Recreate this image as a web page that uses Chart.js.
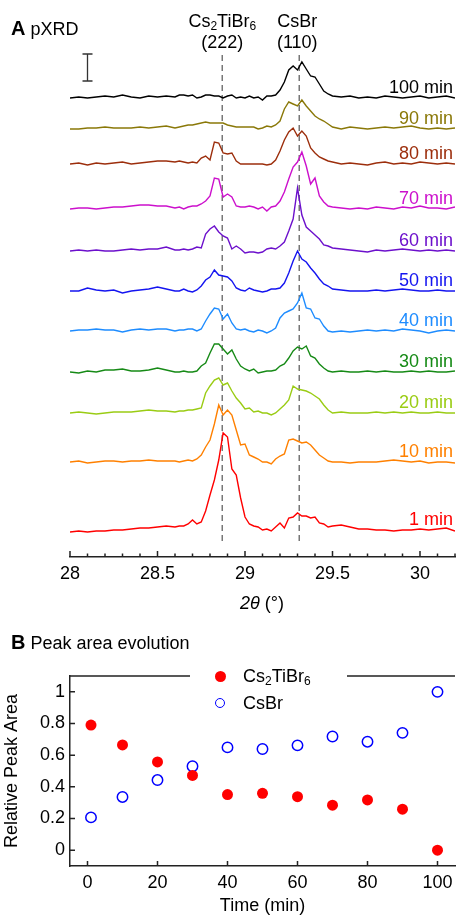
<!DOCTYPE html>
<html>
<head>
<meta charset="utf-8">
<script src="https://cdn.jsdelivr.net/npm/chart.js@4.4.0/dist/chart.umd.min.js"></script>
<style>
  body { margin: 0; background: #fff; font-family: "Liberation Sans", Arial, sans-serif; color: #000; }
  #wrap { position: relative; width: 456px; height: 915px; overflow: hidden; }
  canvas { position: absolute; left: 0; }
  .txt { position: absolute; font-size: 18px; line-height: 20px; white-space: nowrap; }
  .mid { transform: translateX(-50%); text-align: center; }
  sub { font-size: 12px; vertical-align: -3px; line-height: 0; }
  .dot { position: absolute; border-radius: 50%; box-sizing: border-box; }
</style>
</head>
<body>
<div id="wrap">
  <canvas id="xrd" width="456" height="620" style="top:0"></canvas>
  <canvas id="area" width="470" height="295" style="top:620px"></canvas>

  <div class="txt" style="left:11px;top:18px"><b style="font-size:20px">A</b> pXRD</div>
  <div class="txt mid" id="lblTi1" style="top:11px">Cs<sub>2</sub>TiBr<sub>6</sub></div>
  <div class="txt mid" id="lblTi2" style="top:32px">(222)</div>
  <div class="txt mid" id="lblCs1" style="top:11px">CsBr</div>
  <div class="txt mid" id="lblCs2" style="top:32px">(110)</div>
  <div class="txt mid" style="left:262px;top:593px"><i>2θ</i> (°)</div>

  <div class="txt" style="left:11px;top:632px"><b style="font-size:20px">B</b> Peak area evolution</div>
  <div class="dot" style="left:214.5px;top:670.5px;width:11px;height:11px;background:#ff0000"></div>
  <div class="dot" style="left:215px;top:698px;width:10px;height:10px;border:1.5px solid #0000ff;background:#fff"></div>
  <div class="txt" style="left:243px;top:666px">Cs<sub>2</sub>TiBr<sub>6</sub></div>
  <div class="txt" style="left:243px;top:693px">CsBr</div>
</div>

<script>
// 2theta grid (deg) - coarse on the flanks, finer across the two peaks
const twoTheta = [28.00,28.05,28.10,28.15,28.20,28.25,28.30,28.35,28.40,28.45,28.50,28.55,
  28.600,28.625,28.650,28.675,28.700,28.725,28.750,28.775,28.800,28.825,28.850,28.875,28.900,
  28.925,28.950,28.975,29.000,29.025,29.050,29.075,29.100,29.125,29.150,29.175,29.200,29.225,
  29.250,29.275,29.300,29.325,29.350,29.375,29.400,29.425,29.450,29.475,29.500,
  29.55,29.60,29.65,29.70,29.75,29.80,29.85,29.90,29.95,30.00,30.05,30.10,30.15,30.20];

const scanLabels = ['1 min','10 min','20 min','30 min','40 min','50 min','60 min','70 min','80 min','90 min','100 min'];

// intensities (a.u.), baseline removed
const min1 = [-2,-1,-2,-1,-1,0,0,1,2,2,3,4,
  3,4,4,6,10,6,8,19,35,50,70,97,93,61,55,32,13,6,4,3,0,1,-1,3,7,2,12,13,17,14,14,12,13,7,6,3,4,
  5,3,1,1,0,0,-1,0,0,1,0,1,2,-1];
const min10 = [0,1,-1,0,1,1,0,1,1,2,1,1,
  1,0,1,2,1,3,7,15,22,38,57,47,52,47,32,17,18,7,5,3,0,0,-2,3,6,8,22,23,21,19,20,17,12,7,4,1,0,
  0,-1,0,0,0,1,2,1,0,1,-1,0,0,-1];
const min20 = [0,1,0,-1,0,1,1,1,2,3,2,2,
  1,2,2,3,3,4,5,20,27,33,35,28,30,22,15,10,4,5,1,2,0,0,-2,0,4,8,13,27,24,23,22,20,17,14,8,3,0,
  1,0,0,0,1,0,1,0,1,0,0,1,0,0];
const min30 = [0,-1,1,0,2,2,3,1,1,2,4,2,
  0,0,1,0,0,1,6,9,19,28,28,23,18,22,13,6,3,1,3,-1,0,1,1,2,6,8,14,21,25,23,26,16,14,8,4,1,0,
  1,0,0,1,0,1,0,0,1,0,1,0,0,1];
const min40 = [0,1,1,2,1,1,-1,1,2,1,2,2,
  0,1,1,2,2,0,2,10,17,23,22,12,17,8,2,1,2,0,-1,1,0,-2,0,3,13,18,20,22,28,38,23,22,13,12,5,0,-1,
  0,-1,0,1,0,1,0,2,1,0,-2,0,1,0];
const min50 = [0,0,3,1,0,1,-2,0,1,2,4,2,
  0,0,2,0,-1,1,5,11,14,21,16,15,14,10,3,1,0,3,1,0,-1,0,2,2,3,8,18,30,40,32,29,23,18,12,7,5,2,
  1,0,0,0,1,0,1,2,1,0,0,1,0,0];
const min60 = [0,1,0,1,0,0,1,2,1,2,2,4,
  1,1,2,1,2,4,3,17,22,25,19,15,13,2,5,2,-2,-1,-1,-2,-1,2,3,2,5,9,20,32,63,36,24,20,16,12,6,5,3,
  2,1,0,-1,1,0,1,2,1,0,1,0,1,0];
const min70 = [0,1,1,0,1,2,2,3,4,4,3,3,
  1,2,0,2,3,3,5,8,13,31,30,12,15,12,3,2,2,3,2,0,2,-2,2,3,8,17,30,42,47,57,43,25,31,13,7,3,2,
  1,0,1,0,2,1,0,2,1,3,1,1,0,2];
const min80 = [0,1,-1,1,0,1,2,0,1,2,3,3,
  2,3,2,1,2,1,6,8,4,22,21,11,10,11,3,0,0,0,0,0,0,-1,0,4,13,24,32,36,28,33,28,16,11,7,5,3,2,
  0,1,0,-1,1,2,0,1,0,2,1,0,1,0];
const min90 = [0,0,1,1,2,1,1,1,2,1,2,3,
  1,2,3,4,4,5,6,7,6,6,6,6,4,3,2,2,2,2,2,0,1,3,2,4,8,20,27,25,23,29,23,18,13,10,8,5,2,
  0,2,1,0,1,2,1,2,3,1,0,1,0,1];
const min100 = [0,1,0,1,2,1,3,1,0,2,1,2,
  1,3,3,2,3,0,1,3,3,2,2,0,2,3,0,1,0,2,0,1,-2,2,2,3,8,16,28,32,28,36,29,22,21,14,7,4,2,
  1,2,0,1,0,2,1,0,1,2,0,1,2,0];

const scans = [min1, min10, min20, min30, min40, min50, min60, min70, min80, min90, min100];
// vertical stacking offset of each scan (a.u.)
const stackOffsets = [27, 95, 144, 185, 226, 266, 306, 348, 393, 428, 459];
const scanColors = ['#ff0000','#ff8000','#9acc14','#168a16','#1e8cff','#1414f0','#6c10cc','#cc10cc','#9c2e0c','#8a7808','#000000'];

const refPeaks = [28.87, 29.31];   // Cs2TiBr6 (222), CsBr (110)
const xrdTicks = [28, 28.5, 29, 29.5, 30];
const scaleBar = {at: 28.1, from: 476, size: 27};

// peak area evolution
const timeMin = [1, 10, 20, 30, 40, 50, 60, 70, 80, 90, 100];
const areaTi = [0.79, 0.665, 0.557, 0.472, 0.351, 0.359, 0.338, 0.284, 0.317, 0.259, 0.0];
const areaCsBr = [0.207, 0.336, 0.443, 0.530, 0.649, 0.639, 0.662, 0.718, 0.685, 0.741, 1.0];
const timeTicks = [0, 20, 40, 60, 80, 100];
const areaTicks = [0, 0.2, 0.4, 0.6, 0.8, 1];

const FONT = '"Liberation Sans", Arial, sans-serif';
Chart.defaults.font.family = FONT;
Chart.defaults.color = '#000';

const xrdDecor = {
  id: 'xrdDecor',
  beforeDatasetsDraw(chart) {
    const {ctx, chartArea, scales} = chart;
    ctx.save();
    ctx.strokeStyle = '#777';
    ctx.lineWidth = 1.5;
    ctx.setLineDash([6, 4]);
    for (const p of refPeaks) {
      const x = scales.x.getPixelForValue(p);
      ctx.beginPath();
      ctx.moveTo(x, 55);
      ctx.lineTo(x, chartArea.bottom - 12);
      ctx.stroke();
    }
    ctx.restore();
  },
  afterDraw(chart) {
    const {ctx, chartArea, scales} = chart;
    ctx.save();
    // inward ticks, minor every 0.1
    ctx.strokeStyle = '#222';
    ctx.lineWidth = 1.5;
    for (let i = 0; i <= 22; i++) {
      const v = 28 + i * 0.1;
      const x = scales.x.getPixelForValue(v);
      const len = (i % 5 === 0) ? 6 : 3.5;
      ctx.beginPath();
      ctx.moveTo(x, chartArea.bottom);
      ctx.lineTo(x, chartArea.bottom - len);
      ctx.stroke();
    }
    // intensity scale bar
    const bx = scales.x.getPixelForValue(scaleBar.at);
    const y1 = scales.y.getPixelForValue(scaleBar.from);
    const y2 = scales.y.getPixelForValue(scaleBar.from + scaleBar.size);
    ctx.strokeStyle = '#333';
    ctx.lineWidth = 1.3;
    ctx.beginPath();
    ctx.moveTo(bx, y1); ctx.lineTo(bx, y2);
    ctx.moveTo(bx - 5, y1); ctx.lineTo(bx + 5, y1);
    ctx.moveTo(bx - 5, y2); ctx.lineTo(bx + 5, y2);
    ctx.stroke();
    // scan labels
    ctx.font = '18px ' + FONT;
    ctx.textAlign = 'right';
    ctx.textBaseline = 'middle';
    scanLabels.forEach((t, k) => {
      ctx.fillStyle = scanColors[k];
      ctx.fillText(t, chartArea.right - 2, scales.y.getPixelForValue(stackOffsets[k]) - 10);
    });
    ctx.restore();
  }
};

const xrdChart = new Chart(document.getElementById('xrd'), {
  type: 'line',
  data: {
    datasets: scans.map((s, k) => ({
      label: scanLabels[k],
      data: twoTheta.map((t, i) => ({x: t, y: stackOffsets[k] + s[i]})),
      borderColor: scanColors[k],
      borderWidth: 1.4,
      pointRadius: 0,
      tension: 0,
      fill: false
    }))
  },
  options: {
    responsive: false,
    animation: false,
    layout: {padding: {left: 70, right: 1, top: 40, bottom: 0}},
    plugins: {legend: {display: false}, tooltip: {enabled: false}},
    scales: {
      x: {
        type: 'linear', min: 28, max: 30.2,
        grid: {display: false, drawTicks: false},
        border: {display: true, color: '#222', width: 1.5},
        afterBuildTicks(s) { s.ticks = xrdTicks.map(v => ({value: v})); },
        ticks: {font: {size: 18}, color: '#000', padding: 6, maxRotation: 0, callback: v => String(v)},
        afterFit(s) { s.height = 63; }
      },
      y: {display: false, min: 0, max: 517}
    }
  },
  plugins: [xrdDecor]
});

// put peak labels over the dashed lines
const px = xrdChart.scales.x;
['lblTi1', 'lblTi2'].forEach(id => document.getElementById(id).style.left = px.getPixelForValue(refPeaks[0]) + 'px');
['lblCs1', 'lblCs2'].forEach(id => document.getElementById(id).style.left = (px.getPixelForValue(refPeaks[1]) - 2) + 'px');

const areaDecor = {
  id: 'areaDecor',
  afterDraw(chart) {
    const {ctx, chartArea, scales} = chart;
    ctx.save();
    ctx.strokeStyle = '#222';
    ctx.lineWidth = 1.5;
    ctx.beginPath();
    // top frame, broken by the legend
    ctx.moveTo(chartArea.left, chartArea.top); ctx.lineTo(190, chartArea.top);
    ctx.moveTo(347, chartArea.top); ctx.lineTo(chartArea.right, chartArea.top);
    for (const v of timeTicks) {
      const x = scales.x.getPixelForValue(v);
      ctx.moveTo(x, chartArea.bottom); ctx.lineTo(x, chartArea.bottom - 5);
    }
    for (const v of areaTicks) {
      const y = scales.y.getPixelForValue(v);
      ctx.moveTo(chartArea.left, y); ctx.lineTo(chartArea.left + 5, y);
    }
    ctx.stroke();
    ctx.restore();
  }
};

new Chart(document.getElementById('area'), {
  type: 'scatter',
  data: {
    datasets: [
      {
        label: 'Cs2TiBr6',
        data: timeMin.map((t, i) => ({x: t, y: areaTi[i]})),
        pointRadius: 5.5,
        backgroundColor: '#ff0000',
        borderColor: '#ff0000',
        borderWidth: 0
      },
      {
        label: 'CsBr',
        data: timeMin.map((t, i) => ({x: t, y: areaCsBr[i]})),
        pointRadius: 5.2,
        backgroundColor: 'rgba(0,0,0,0)',
        borderColor: '#0000ff',
        borderWidth: 1.5
      }
    ]
  },
  options: {
    responsive: false,
    animation: false,
    layout: {padding: {left: 0, right: 15, top: 56, bottom: 0}},
    plugins: {legend: {display: false}, tooltip: {enabled: false}},
    scales: {
      x: {
        type: 'linear', min: -5, max: 105,
        grid: {display: false, drawTicks: false},
        border: {display: true, color: '#222', width: 1.5},
        afterBuildTicks(s) { s.ticks = timeTicks.map(v => ({value: v})); },
        ticks: {font: {size: 18}, color: '#000', padding: 6, maxRotation: 0},
        title: {display: true, text: 'Time (min)', font: {size: 18, lineHeight: 1}, padding: {top: 0, bottom: 0}},
        afterFit(s) { s.height = 49; }
      },
      y: {
        type: 'linear', min: -0.1, max: 1.1,
        grid: {display: false, drawTicks: false},
        border: {display: true, color: '#222', width: 1.5},
        afterBuildTicks(s) { s.ticks = areaTicks.map(v => ({value: v})); },
        ticks: {font: {size: 18}, color: '#000', padding: 5, callback: v => String(v)},
        title: {display: true, text: 'Relative Peak Area', font: {size: 18}, padding: {top: 1, bottom: 0}},
        afterFit(s) { s.width = 70; }
      }
    }
  },
  plugins: [areaDecor]
});
</script>
</body>
</html>
